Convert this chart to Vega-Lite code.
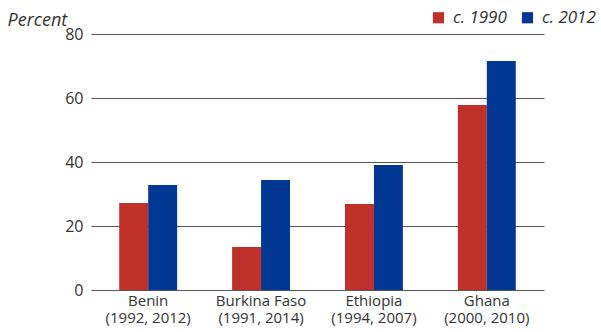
{
  "$schema": "https://vega.github.io/schema/vega-lite/v6.json",
  "autosize": "none",
  "padding": {"left": 91, "top": 34, "right": 57, "bottom": 42},
  "width": 453,
  "height": 256,
  "background": "white",
  "data": {"values": [
    {"country": "Benin|(1992, 2012)", "period": "c. 1990", "value": 27.2},
    {"country": "Benin|(1992, 2012)", "period": "c. 2012", "value": 32.8},
    {"country": "Burkina Faso|(1991, 2014)", "period": "c. 1990", "value": 13.4},
    {"country": "Burkina Faso|(1991, 2014)", "period": "c. 2012", "value": 34.4},
    {"country": "Ethiopia|(1994, 2007)", "period": "c. 1990", "value": 26.9},
    {"country": "Ethiopia|(1994, 2007)", "period": "c. 2012", "value": 39.1},
    {"country": "Ghana|(2000, 2010)", "period": "c. 1990", "value": 57.8},
    {"country": "Ghana|(2000, 2010)", "period": "c. 2012", "value": 71.6}
  ]},
  "mark": {"type": "bar"},
  "encoding": {
    "x": {
      "field": "country", "type": "nominal", "sort": null,
      "scale": {"paddingInner": 0.487, "paddingOuter": 0.25},
      "axis": {
        "title": null, "labelAngle": 0, "domain": false, "ticks": false,
        "labelExpr": "split(datum.label, '|')",
        "labelFont": "Open Sans", "labelFontSize": 15, "labelColor": "#333333",
        "labelPadding": 3, "labelLineHeight": 17.5, "labelBaseline": "top"
      }
    },
    "xOffset": {"field": "period", "type": "nominal"},
    "y": {
      "field": "value", "type": "quantitative",
      "scale": {"domain": [0, 80]},
      "axis": {
        "values": [0, 20, 40, 60, 80], "domain": false, "ticks": false,
        "grid": true, "gridColor": "#555555", "gridWidth": 1.2,
        "labelFont": "Open Sans", "labelFontSize": 16, "labelColor": "#333333",
        "labelPadding": 8,
        "title": "Percent", "titleAngle": 0, "titleAlign": "left", "titleBaseline": "alphabetic",
        "titleX": -84, "titleY": -9,
        "titleFont": "Open Sans", "titleFontSize": 18, "titleFontStyle": "italic", "titleFontWeight": "normal", "titleColor": "#333333"
      }
    },
    "color": {
      "field": "period", "type": "nominal",
      "scale": {"domain": ["c. 1990", "c. 2012"], "range": ["#C0302B", "#003893"]},
      "legend": {
        "title": null, "orient": "none", "direction": "horizontal",
        "legendX": 339, "legendY": -25,
        "symbolType": "square", "symbolSize": 125, "symbolStrokeWidth": 0,
        "labelFont": "Open Sans", "labelFontSize": 17, "labelFontStyle": "italic", "labelColor": "#333333",
        "columnPadding": 12, "labelOffset": 6
      }
    }
  },
  "config": {"view": {"stroke": null}}
}
